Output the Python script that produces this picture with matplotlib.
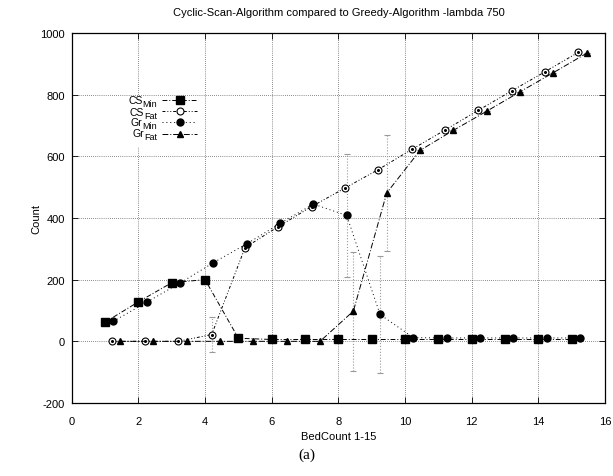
import matplotlib
matplotlib.use('Agg')
import matplotlib.pyplot as plt

plt.rcParams['font.family'] = ['Liberation Sans', 'DejaVu Sans']
plt.rcParams['axes.unicode_minus'] = False

# bed counts and the values
beds = [1, 2, 3, 4, 5, 6, 7, 8, 9, 10, 11, 12, 13, 14, 15]
cs_min = [62, 128, 190, 200, 10, 6, 6, 6, 6, 6, 6, 6, 6, 6, 6]
cs_fat = [0, 0, 0, 22, 304, 372, 437, 497, 557, 622, 685, 749, 812, 874, 937]
gr_min = [65, 127, 189, 255, 316, 382, 445, 408, 87, 12, 11, 11, 11, 11, 11]
gr_fat = [0, 0, 0, 0, 0, 0, 0, 98, 481, 619, 684, 746, 809, 871, 934]

# spread of the runs (only a few are big enough to see)
cs_fat_err = [0, 0, 0, 58, 0, 0, 0, 0, 0, 0, 0, 0, 0, 0, 0]
gr_min_err = [0, 0, 0, 0, 0, 0, 0, 198, 189, 0, 0, 0, 0, 0, 0]
gr_fat_err = [0, 0, 0, 0, 0, 0, 0, 193, 187, 0, 0, 0, 0, 0, 0]

names = ['CS', 'CS', 'Gr', 'Gr']
subs = ['Min', 'Fat', 'Min', 'Fat']

# each series is drawn a little to the right of the bed count
x_cs_min = [b for b in beds]
x_cs_fat = [b + 0.2 for b in beds]
x_gr_min = [b + 0.25 for b in beds]
x_gr_fat = [b + 0.45 for b in beds]

fig = plt.figure(figsize=(6.13, 4.77), dpi=100)
ax = fig.add_axes([0.117, 0.153, 0.870, 0.776])

# error bars first, grey dotted
for xs, ys, es in [(x_cs_fat, cs_fat, cs_fat_err),
                   (x_gr_min, gr_min, gr_min_err),
                   (x_gr_fat, gr_fat, gr_fat_err)]:
  eb = ax.errorbar(xs, ys, yerr=es, fmt='none', ecolor='#999999',
                   elinewidth=0.8, capsize=2, capthick=0.8)
  eb[2][0].set_linestyle(':')

l1, = ax.plot(x_cs_min, cs_min, color='black', lw=0.7, ls=(0, (5, 2, 1, 2)),
              marker='s', ms=5.5, mfc='black', mec='black')
l2, = ax.plot(x_cs_fat, cs_fat, color='black', lw=0.7, ls=(0, (3, 2, 1, 2, 1, 2)),
              marker='o', ms=5, mfc='white', mec='black', mew=0.8)
ax.plot(x_cs_fat, cs_fat, ls='none', marker='o', ms=1.2, color='black')
l3, = ax.plot(x_gr_min, gr_min, color='black', lw=0.7, ls=(0, (1, 3)),
              marker='o', ms=5, mfc='black', mec='black')
l4, = ax.plot(x_gr_fat, gr_fat, color='black', lw=0.7, ls=(0, (6, 2, 1, 2)),
              marker='^', ms=5, mfc='black', mec='black')

ax.set_xlim(0, 16)
ax.set_ylim(-200, 1000)
ax.set_xticks(range(0, 17, 2))
ax.set_yticks(range(-200, 1001, 200))
ax.grid(True, color='#222222', ls=(0, (1, 2)), lw=0.5)
ax.tick_params(direction='in', top=True, right=True, length=4, width=0.6,
               labelsize=8)
ax.tick_params(axis='x', pad=9)
ax.tick_params(axis='y', pad=5)
for s in ax.spines.values():
  s.set_linewidth(0.9)

ax.set_title('Cyclic-Scan-Algorithm compared to Greedy-Algorithm -lambda 750',
             fontsize=8, pad=13)
ax.set_xlabel('BedCount 1-15', fontsize=8, labelpad=4)
ax.set_ylabel('Count', fontsize=8)
ax.yaxis.set_label_coords(-0.056, 0.5)

# opaque key area, covers the grid like gnuplot's "key opaque"
ax.add_patch(plt.Rectangle((0.087, 0.692), 0.154, 0.136, transform=ax.transAxes,
                           facecolor='white', edgecolor='none', zorder=1.6))

# legend samples only, the labels are written by hand (gnuplot style,
# right aligned with big subscripts)
leg = ax.legend([l1, l2, l3, l4], ['', '', '', ''],
                loc='upper left', bbox_to_anchor=(0.169, 0.831), frameon=False,
                fontsize=7.5, handlelength=3.4, handletextpad=0,
                labelspacing=0.12, borderpad=0, borderaxespad=0)

row_y = [0.816, 0.786, 0.757, 0.727]
for name, sub, yy in zip(names, subs, row_y):
  st = ax.annotate(sub, xy=(0.160, yy), xycoords='axes fraction',
                   xytext=(0, -3), textcoords='offset pixels',
                   ha='right', va='center', fontsize=6.5)
  ax.annotate(name, xy=(0, 0.5), xycoords=st, xytext=(0, 3.5),
              textcoords='offset pixels', ha='right', va='center', fontsize=7.5)

fig.text(0.5, 0.045, '(a)', ha='center', va='center',
         fontsize=11, family='Liberation Serif')

fig.savefig('out.png', dpi=100)
